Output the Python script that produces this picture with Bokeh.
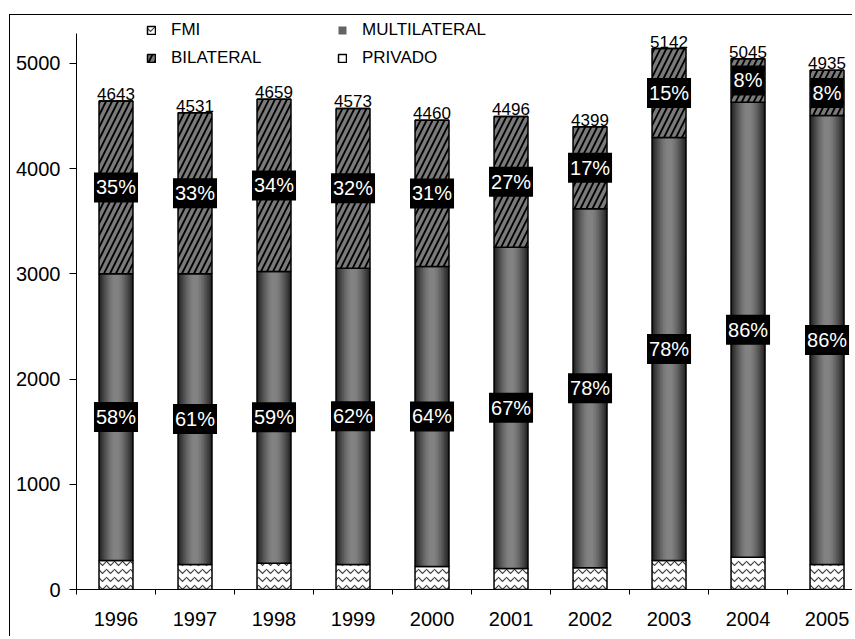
from bokeh.plotting import figure
from bokeh.models import (Range1d, FixedTicker, Legend, LegendItem,
                          ColumnDataSource)
from bokeh.core.properties import value
from bokeh.embed import file_html
from bokeh.resources import INLINE

# ---------------- data ----------------
years = ["1996", "1997", "1998", "1999", "2000", "2001", "2002", "2003", "2004", "2005"]
fmi = [276, 238, 250, 238, 219, 200, 206, 276, 307, 238]
multilateral = [2725, 2764, 2773, 2816, 2851, 3054, 3413, 4021, 4325, 4268]
bilateral = [1642, 1529, 1636, 1519, 1390, 1242, 780, 845, 413, 429]
privado = [0, 0, 0, 0, 0, 0, 0, 0, 0, 0]
total_labels = ["4643", "4531", "4659", "4573", "4460", "4496", "4399", "5142", "5045", "4935"]
pct_multilateral = ["58%", "61%", "59%", "62%", "64%", "67%", "78%", "78%", "86%", "86%"]
pct_bilateral = ["35%", "33%", "34%", "32%", "31%", "27%", "17%", "15%", "8%", "8%"]
y_ticks = [0, 1000, 2000, 3000, 4000, 5000]
y_axis_max = 5285

FONT = value("Liberation Sans")

n = len(years)
x = [i + 0.5 for i in range(n)]
t1 = list(fmi)
t2 = [a + b for a, b in zip(t1, multilateral)]
t3 = [a + b for a, b in zip(t2, bilateral)]
t4 = [a + b for a, b in zip(t3, privado)]
src = ColumnDataSource(dict(
    x=x, zero=[0] * n, t1=t1, t2=t2, t3=t3, t4=t4,
    mid_m=[(a + b) / 2 for a, b in zip(t1, t2)],
    mid_b=[(a + b) / 2 for a, b in zip(t2, t3)],
    pm=pct_multilateral, pb=pct_bilateral, tot=total_labels,
))

p = figure(width=843, height=622, output_backend="svg", toolbar_location=None,
           x_range=Range1d(0, 9.835), y_range=Range1d(0, 5456),
           min_border_left=66, min_border_right=0, min_border_top=0,
           min_border_bottom=48, outline_line_color=None,
           background_fill_color="white", border_fill_color="white")
p.styles = {"border-top": "1px solid black", "border-left": "1px solid black",
            "margin-left": "9px", "margin-top": "14px"}
p.xgrid.visible = False
p.ygrid.visible = False

BW = 0.43

# FMI
r_fmi = p.vbar(x="x", bottom="zero", top="t1", width=BW, source=src,
               fill_color="white", hatch_pattern="horizontal_wave",
               hatch_color="#404040", hatch_weight=1.2, hatch_scale=8,
               line_color="black", line_width=1.5)

# MULTILATERAL (cylinder-like gradient built from layered bars)
layers = [(0.43, "#262626"), (0.39, "#333333"), (0.35, "#404040"), (0.31, "#4c4c4c"),
          (0.27, "#585858"), (0.23, "#636363"), (0.19, "#6d6d6d"), (0.15, "#767676"),
          (0.11, "#7d7d7d"), (0.07, "#828282")]
r_multi = []
for w, c in layers:
    r_multi.append(p.vbar(x="x", bottom="t1", top="t2", width=w, source=src,
                          fill_color=c, line_color=None))
p.vbar(x="x", bottom="t1", top="t2", width=BW, source=src,
       fill_color=None, line_color="black", line_width=1.5)

# BILATERAL
r_bil = p.vbar(x="x", bottom="t2", top="t3", width=BW, source=src,
               fill_color="black", hatch_pattern="right_diagonal_line",
               hatch_color="#7a7a7a", hatch_weight=3.5, hatch_scale=12,
               line_color="black", line_width=1.5)

# PRIVADO
r_priv = p.vbar(x="x", bottom="t3", top="t4", width=BW, source=src,
                fill_color="white", line_color="black", line_width=1.5)

# percentage labels
for col, lab in (("mid_m", "pm"), ("mid_b", "pb")):
    p.text(x="x", y=col, text=lab, source=src, text_font=FONT,
           text_font_size="20px", text_color="white", text_align="center",
           text_baseline="middle", background_fill_color="black",
           padding=(2, 4))

# totals
p.text(x="x", y="t4", text="tot", source=src, text_font=FONT,
       text_font_size="17px", text_color="black", text_align="center",
       text_baseline="bottom", y_offset=-1)

# axes
xa = p.xaxis[0]
xa.ticker = FixedTicker(ticks=x, minor_ticks=list(range(n + 1)))
xa.major_label_overrides = {xv: yr for xv, yr in zip(x, years)}
xa.major_tick_line_color = None
xa.major_tick_out = 0
xa.major_tick_in = 0
xa.minor_tick_line_color = "black"
xa.minor_tick_out = 5
xa.minor_tick_in = 0
xa.axis_line_color = "black"
xa.major_label_standoff = 17
xa.major_label_text_font = "Liberation Sans"
xa.major_label_text_font_size = "20px"
xa.major_label_text_color = "black"

ya = p.yaxis[0]
ya.ticker = FixedTicker(ticks=y_ticks)
ya.bounds = (0, y_axis_max)
ya.minor_tick_line_color = None
ya.major_tick_out = 7
ya.major_tick_in = 0
ya.major_tick_line_color = "black"
ya.axis_line_color = "black"
ya.major_label_standoff = 9
ya.major_label_text_font = "Liberation Sans"
ya.major_label_text_font_size = "20px"
ya.major_label_text_color = "black"

# legends (two columns)
def make_legend(items, xloc):
    lg = Legend(items=items, location=(xloc, 521), orientation="vertical",
                padding=0, margin=0, spacing=8, glyph_width=10, glyph_height=10,
                label_height=20, label_standoff=15,
                label_text_font="Liberation Sans", label_text_font_size="17px",
                label_text_color="black", border_line_color=None,
                background_fill_alpha=0)
    p.add_layout(lg, "center")

make_legend([LegendItem(label="FMI", renderers=[r_fmi]),
             LegendItem(label="BILATERAL", renderers=[r_bil])], 70)
make_legend([LegendItem(label="MULTILATERAL", renderers=[r_multi[5]]),
             LegendItem(label="PRIVADO", renderers=[r_priv])], 261)

open("out.html", "w").write(file_html(p, INLINE))
